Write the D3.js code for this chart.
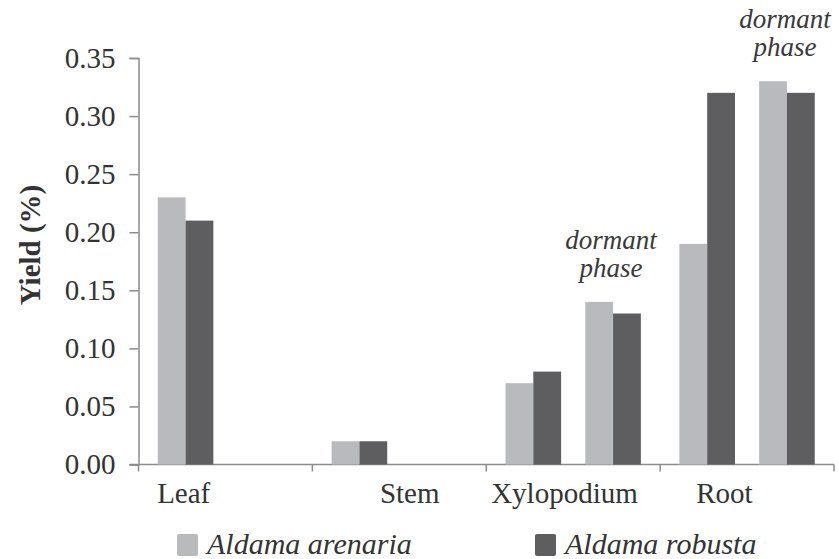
<!DOCTYPE html>
<html>
<head>
<meta charset="utf-8">
<script src="https://cdn.jsdelivr.net/npm/d3@7"></script>
<style>
  body { margin: 0; background: #fff; }
</style>
</head>
<body>
<div id="chart"></div>
<script>
// two slots per organ; the second slot of Xylopodium and Root is the dormant phase
const categories = ['Leaf', 'Stem', 'Xylopodium', 'Root'];
const phases = ['active', 'dormant'];
const arenaria = [0.23, null, 0.02, null, 0.07, 0.14, 0.19, 0.33];
const robusta = [0.21, null, 0.02, null, 0.08, 0.13, 0.32, 0.32];
const seriesNames = ['Aldama arenaria', 'Aldama robusta'];
const yTicks = [0, 0.05, 0.10, 0.15, 0.20, 0.25, 0.30, 0.35];
const annotated = ['Xylopodium', 'Root'];

const W = 839, H = 559;
const margin = { left: 138.5, right: 834, top: 58, bottom: 464.5 };
const FONT = 'Liberation Serif';
const textColor = '#333';
const colors = ['#b9babd', '#5e5e61'];
const axisColor = '#8c8c8c';

const svg = d3.select('#chart').append('svg')
    .attr('width', W)
    .attr('height', H)
    .attr('font-family', FONT);

const x = d3.scaleBand()
    .domain(categories)
    .range([margin.left, margin.right]);

// centre of each phase pair inside an organ band
const xPhase = d3.scalePoint()
    .domain(phases)
    .range([0, x.bandwidth()])
    .padding(0.59);

const barW = 27.8;
const xSeries = d3.scaleBand()
    .domain([0, 1])
    .range([-barW, barW]);

const y = d3.scaleLinear()
    .domain([0, 0.35])
    .range([margin.bottom, margin.top]);

// y axis
const yAxis = svg.append('g')
    .attr('transform', `translate(${margin.left},0)`)
    .call(d3.axisLeft(y).tickValues(yTicks).tickFormat(d3.format('.2f')).tickSize(9).tickPadding(14))
    .attr('font-family', FONT)
    .attr('font-size', 29);
yAxis.select('.domain').attr('stroke', axisColor).attr('stroke-width', 1.5);
yAxis.selectAll('.tick line').attr('stroke', axisColor).attr('stroke-width', 1.5);
yAxis.selectAll('.tick text').attr('fill', textColor);

// x axis: ticks at the organ boundaries
const boundaries = categories.map(c => x(c)).concat([margin.right]);
const xAxis = svg.append('g');
xAxis.append('line')
    .attr('x1', margin.left - 9).attr('x2', margin.right)
    .attr('y1', margin.bottom).attr('y2', margin.bottom)
    .attr('stroke', axisColor).attr('stroke-width', 1.5);
xAxis.selectAll('.xtick')
    .data(boundaries)
    .enter()
    .append('line')
    .attr('x1', d => d).attr('x2', d => d)
    .attr('y1', margin.bottom).attr('y2', margin.bottom + 7)
    .attr('stroke', axisColor).attr('stroke-width', 1.5);

// category labels, placed at a fraction of their band like the original
const labelAt = [0.26, 0.56, 0.45, 0.37];
svg.selectAll('.cat')
    .data(categories)
    .enter()
    .append('text')
    .attr('x', (d, i) => x(d) + labelAt[i] * x.bandwidth())
    .attr('y', 503)
    .attr('text-anchor', 'middle')
    .attr('font-size', 29)
    .attr('fill', textColor)
    .text(d => d);

// bars
const rows = [];
categories.forEach((c, ci) => {
    phases.forEach((p, pi) => {
        const i = ci * 2 + pi;
        [arenaria[i], robusta[i]].forEach((v, si) => {
            if (v != null) rows.push({ cat: c, phase: p, series: si, value: v });
        });
    });
});

svg.selectAll('.bar')
    .data(rows)
    .enter()
    .append('rect')
    .attr('class', 'bar')
    .attr('x', d => x(d.cat) + xPhase(d.phase) + xSeries(d.series))
    .attr('y', d => y(d.value))
    .attr('width', xSeries.bandwidth())
    .attr('height', d => margin.bottom - y(d.value))
    .attr('fill', d => colors[d.series]);

// "dormant phase" notes above the dormant groups
annotated.forEach(c => {
    const i = categories.indexOf(c) * 2 + 1;
    const cx = x(c) + xPhase('dormant') - 2;
    const topY = y(Math.max(arenaria[i], robusta[i]));
    const g = svg.append('text')
        .attr('text-anchor', 'middle')
        .attr('font-style', 'italic')
        .attr('font-size', 27)
        .attr('fill', '#3a3a3a');
    g.append('tspan').attr('x', cx).attr('y', topY - 53).text('dormant');
    g.append('tspan').attr('x', cx).attr('y', topY - 25).text('phase');
});

// y title
svg.append('text')
    .attr('transform', 'translate(40,245) rotate(-90)')
    .attr('text-anchor', 'middle')
    .attr('font-weight', 'bold')
    .attr('font-size', 29)
    .attr('fill', textColor)
    .text('Yield (%)');

// legend
const legendX = [177, 535];
seriesNames.forEach((name, i) => {
    svg.append('rect')
        .attr('x', legendX[i]).attr('y', 534)
        .attr('width', 21).attr('height', 22)
        .attr('rx', 2)
        .attr('fill', colors[i]);
    svg.append('text')
        .attr('x', legendX[i] + 30)
        .attr('y', 554)
        .attr('font-style', 'italic')
        .attr('font-size', 30)
        .attr('fill', textColor)
        .text(name);
});
</script>
</body>
</html>
